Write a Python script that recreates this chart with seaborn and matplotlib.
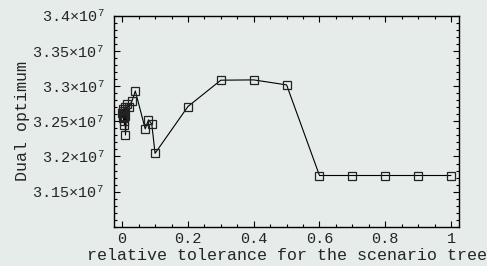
import matplotlib
matplotlib.use("Agg")
import matplotlib.pyplot as plt
from matplotlib.ticker import FixedLocator, MultipleLocator, FuncFormatter
import seaborn as sns
import pandas as pd

tolerance = [0.0, 0.001, 0.002, 0.003, 0.004, 0.005, 0.006, 0.007, 0.008, 0.009,
             0.01, 0.015, 0.02, 0.03, 0.04, 0.07, 0.08, 0.09, 0.1,
             0.2, 0.3, 0.4, 0.5, 0.6, 0.7, 0.8, 0.9, 1.0]
dual_opt_e7 = [3.262, 3.258, 3.265, 3.255, 3.268, 3.250, 3.262, 3.245, 3.270, 3.257,
               3.2305, 3.274, 3.270, 3.279, 3.293, 3.2393, 3.252, 3.246, 3.2045,
               3.271, 3.3084, 3.3088, 3.3017, 3.173, 3.173, 3.173, 3.173, 3.173]
y_ticks_e7 = [3.15, 3.2, 3.25, 3.3, 3.35, 3.4]
x_ticks = [0, 0.2, 0.4, 0.6, 0.8, 1.0]
x_tick_labels = ["0", "0.2", "0.4", "0.6", "0.8", "1"]

df = pd.DataFrame({"tol": tolerance, "dual": [v * 1e7 for v in dual_opt_e7]})

sns.set_style("ticks")
bg = "#e5ece9"
plt.rcParams["font.family"] = ["Liberation Mono", "DejaVu Sans"]
plt.rcParams["mathtext.fontset"] = "custom"
plt.rcParams["mathtext.rm"] = "Liberation Mono"
plt.rcParams["mathtext.it"] = "Liberation Mono"
plt.rcParams["mathtext.bf"] = "Liberation Mono"

fig = plt.figure(figsize=(4.87, 2.66), dpi=100, facecolor=bg)
ax = fig.add_axes([0.234, 0.147, 0.709, 0.794])
ax.set_facecolor(bg)

sns.lineplot(data=df, x="tol", y="dual", ax=ax, sort=False, errorbar=None,
             color="black", linewidth=0.8, marker="s", markersize=6,
             markerfacecolor="none", markeredgecolor="#222222", markeredgewidth=0.9)

ax.set_xlim(-0.025, 1.025)
ax.set_ylim(3.1e7, 3.4e7)

ax.xaxis.set_major_locator(FixedLocator(x_ticks))
ax.set_xticklabels(x_tick_labels)
ax.xaxis.set_minor_locator(MultipleLocator(0.05))
ax.yaxis.set_major_locator(FixedLocator([v * 1e7 for v in y_ticks_e7]))
ax.yaxis.set_minor_locator(MultipleLocator(0.01e7))

def yfmt(v, pos):
    s = f"{v/1e7:.2f}".rstrip("0")
    return s + "×10$^{7}$"
ax.yaxis.set_major_formatter(FuncFormatter(yfmt))

ax.tick_params(which="both", direction="in", top=True, right=True, color="black",
               labelsize=11, width=0.8)
ax.tick_params(which="major", length=4)
ax.tick_params(which="minor", length=2)
ax.tick_params(axis="y", which="major", pad=7)
ax.tick_params(axis="x", which="major", pad=4)
for s in ax.spines.values():
    s.set_color("black")
    s.set_linewidth(1.0)

ax.set_xlabel("relative tolerance for the scenario tree", fontsize=12, labelpad=1)
ax.set_ylabel("Dual optimum", fontsize=12, labelpad=2)

fig.savefig("out.png", dpi=100, facecolor=bg)
